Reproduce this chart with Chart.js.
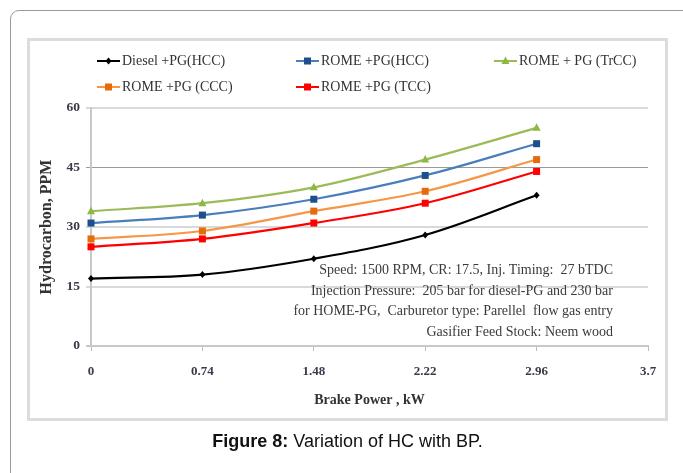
<!DOCTYPE html>
<html>
<head>
<meta charset="utf-8">
<script src="https://cdn.jsdelivr.net/npm/chart.js@4/dist/chart.umd.min.js"></script>
<style>
  html, body { margin: 0; padding: 0; background: #fff; width: 683px; height: 473px; overflow: hidden; }
  #frame { position: absolute; left: 10px; top: 10px; width: 720px; height: 520px; border: 1px solid #9a9a9a; border-radius: 9px; box-sizing: border-box; }
  #box { position: absolute; left: 27px; top: 38px; width: 641px; height: 383px; border: 3px solid #dcdcdc; box-sizing: border-box; background: #fff; }
  #cv { position: absolute; left: 0; top: 0; }
  #note { position: absolute; left: 113px; width: 500px; top: 260px; text-align: right; font-family: "Liberation Serif", serif; font-size: 14px; line-height: 20.5px; color: #3a3a3a; white-space: pre; }
  #caption { position: absolute; left: 0; width: 695px; top: 431px; text-align: center; font-family: "Liberation Sans", Arial, sans-serif; font-size: 18px; color: #111; }
</style>
</head>
<body>
<div id="frame"></div>
<div id="box"></div>
<canvas id="cv" width="683" height="473"></canvas>
<div id="note">Speed: 1500 RPM, CR: 17.5, Inj. Timing:  27 bTDC
Injection Pressure:  205 bar for diesel-PG and 230 bar
for HOME-PG,  Carburetor type: Parellel  flow gas entry
Gasifier Feed Stock: Neem wood</div>
<div id="caption"><b>Figure 8:</b> Variation of HC with BP.</div>
<script>
// ---- data ----
const brakePower = [0, 0.74, 1.48, 2.22, 2.96];
const xTickValues = [0, 0.74, 1.48, 2.22, 2.96, 3.7];
const xTickLabels = ['0', '0.74', '1.48', '2.22', '2.96', '3.7'];
const yTickValues = [0, 15, 30, 45, 60];
const seriesNames = ['Diesel +PG(HCC)', 'ROME +PG(HCC)', 'ROME + PG (TrCC)', 'ROME +PG (CCC)', 'ROME +PG (TCC)'];
const dieselHCC = [17, 18, 22, 28, 38];
const romeHCC   = [31, 33, 37, 43, 51];
const romeTrCC  = [34, 36, 40, 47, 55];
const romeCCC   = [27, 29, 34, 39, 47];
const romeTCC   = [25, 27, 31, 36, 44];

const seriesValues = [dieselHCC, romeHCC, romeTrCC, romeCCC, romeTCC];
const lineColors   = ['#000000', '#4a7ebb', '#9bbb59', '#f79646', '#ff0000'];
const markColors   = ['#000000', '#1f4e8c', '#8db844', '#e46c0a', '#ff0000'];
const markShapes   = ['diamond', 'square', 'triangle', 'square', 'square'];

function toPoints(vals) { return vals.map((v, i) => ({ x: brakePower[i], y: v })); }

const datasets = seriesValues.map((vals, i) => ({
  label: seriesNames[i],
  data: toPoints(vals),
  borderColor: lineColors[i],
  backgroundColor: markColors[i],
  borderWidth: 2.2,
  tension: 0.35,
  pointStyle: false,
  shape: markShapes[i]
}));

function drawMark(ctx, shape, x, y, color) {
  ctx.save();
  ctx.fillStyle = color;
  ctx.beginPath();
  if (shape === 'square') {
    ctx.rect(x - 3.5, y - 3.5, 7, 7);
  } else if (shape === 'triangle') {
    ctx.moveTo(x, y - 4.5); ctx.lineTo(x + 4, y + 3); ctx.lineTo(x - 4, y + 3); ctx.closePath();
  } else {
    ctx.moveTo(x, y - 3.5); ctx.lineTo(x + 3, y); ctx.lineTo(x, y + 3.5); ctx.lineTo(x - 3, y); ctx.closePath();
  }
  ctx.fill();
  ctx.restore();
}

const markerPlugin = {
  id: 'markers',
  afterDatasetsDraw(chart) {
    const ctx = chart.ctx;
    chart.data.datasets.forEach((ds, i) => {
      const meta = chart.getDatasetMeta(i);
      meta.data.forEach(pt => drawMark(ctx, ds.shape, pt.x, pt.y, ds.backgroundColor));
    });
  }
};

const legendSlots = [[97, 61], [296, 61], [494, 61], [97, 87], [296, 87]];
const legendPlugin = {
  id: 'customLegend',
  afterDraw(chart) {
    const ctx = chart.ctx;
    ctx.save();
    chart.data.datasets.forEach((ds, i) => {
      const [x, y] = legendSlots[i];
      ctx.strokeStyle = ds.borderColor;
      ctx.lineWidth = 2;
      ctx.beginPath(); ctx.moveTo(x, y); ctx.lineTo(x + 23, y); ctx.stroke();
      drawMark(ctx, ds.shape, x + 11.5, y, ds.backgroundColor);
      ctx.fillStyle = '#333';
      ctx.font = '14px "Liberation Serif", serif';
      ctx.textBaseline = 'middle';
      ctx.textAlign = 'left';
      ctx.fillText(ds.label, x + 25, y + 0.5);
    });
    ctx.restore();
  }
};

new Chart(document.getElementById('cv'), {
  type: 'line',
  data: { datasets },
  plugins: [markerPlugin, legendPlugin],
  options: {
    responsive: false,
    animation: false,
    layout: { padding: { left: 0, right: 35, top: 108, bottom: 57 } },
    plugins: { legend: { display: false }, tooltip: { enabled: false } },
    scales: {
      x: {
        type: 'linear',
        min: 0, max: 3.7,
        afterFit(scale) { scale.height = 70; },
        afterBuildTicks(scale) { scale.ticks = xTickValues.map(v => ({ value: v })); },
        ticks: {
          padding: 13,
          color: '#3a3a4a',
          font: { family: '"Liberation Serif", serif', size: 13, weight: 'bold' },
          callback: (v, i) => xTickLabels[i]
        },
        grid: { drawOnChartArea: false, drawTicks: true, tickLength: 5, color: '#bdbdbd' },
        border: { display: true, color: '#c8c8c8', width: 2 },
        title: {
          display: true, text: 'Brake Power , kW', color: '#333',
          font: { family: '"Liberation Serif", serif', size: 14, weight: 'bold' },
          padding: { top: 0, bottom: 7 }
        }
      },
      y: {
        min: 0, max: 60,
        afterFit(scale) { scale.width = 91; },
        afterBuildTicks(scale) { scale.ticks = yTickValues.map(v => ({ value: v })); },
        ticks: {
          padding: 6,
          color: '#3a3a4a',
          font: { family: '"Liberation Serif", serif', size: 13.5, weight: 'bold' }
        },
        grid: {
          drawTicks: true, tickLength: 5,
          color: (c) => c.tick && c.tick.value === 45 ? '#9a9a9a' : (c.tick && c.tick.value === 0 ? '#c8c8c8' : '#d9d9d9'),
          lineWidth: (c) => c.tick && c.tick.value === 45 ? 1 : 2
        },
        border: { display: true, color: '#c8c8c8', width: 2 },
        title: {
          display: true, text: 'Hydrocarbon, PPM', color: '#333',
          font: { family: '"Liberation Serif", serif', size: 16, weight: 'bold' },
          padding: { top: 37, bottom: 0 }
        }
      }
    }
  }
});
</script>
</body>
</html>
